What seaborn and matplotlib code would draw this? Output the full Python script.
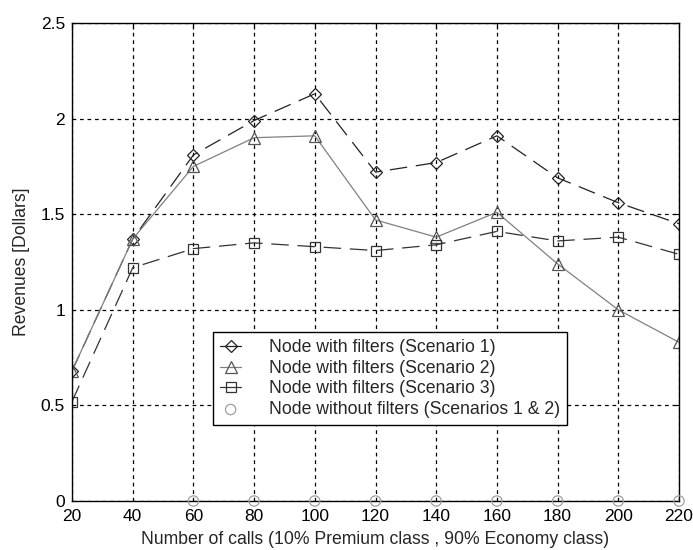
import numpy as np
import pandas as pd
import matplotlib
matplotlib.use("Agg")
import matplotlib.pyplot as plt
import seaborn as sns

calls = [20, 40, 60, 80, 100, 120, 140, 160, 180, 200, 220]
scenario1 = [0.68, 1.37, 1.81, 1.99, 2.13, 1.72, 1.77, 1.91, 1.69, 1.56, 1.45]
scenario2 = [0.68, 1.37, 1.75, 1.90, 1.91, 1.47, 1.38, 1.51, 1.24, 1.00, 0.83]
scenario3 = [0.52, 1.22, 1.32, 1.35, 1.33, 1.31, 1.34, 1.41, 1.36, 1.38, 1.29]
calls_nofilter = [60, 80, 100, 120, 140, 160, 180, 200, 220]
no_filters = [0, 0, 0, 0, 0, 0, 0, 0, 0]

labels = ["Node with filters (Scenario 1)",
          "Node with filters (Scenario 2)",
          "Node with filters (Scenario 3)",
          "Node without filters (Scenarios 1 & 2)"]
yticks = [0, 0.5, 1, 1.5, 2, 2.5]
ytick_labels = ["0", "0.5", "1", "1.5", "2", "2.5"]

sns.set_style("white")
plt.rcParams["font.family"] = ["Liberation Sans", "DejaVu Sans"]

fig = plt.figure(figsize=(6.93, 5.5), dpi=100)
ax = fig.add_axes([72 / 693, 1 - 501 / 550, (679 - 72) / 693, (501 - 23) / 550])

df = pd.DataFrame({"calls": calls, "s1": scenario1, "s2": scenario2, "s3": scenario3})
dfn = pd.DataFrame({"calls": calls_nofilter, "val": no_filters})

sns.lineplot(data=df, x="calls", y="s1", ax=ax, color="#222222", lw=0.9,
             marker="D", markersize=6.5, markerfacecolor="none",
             markeredgecolor="#222222", markeredgewidth=0.9,
             linestyle=(0, (14, 7)), label=labels[0])
sns.lineplot(data=df, x="calls", y="s2", ax=ax, color="#808080", lw=0.9,
             marker="^", markersize=8.5, markerfacecolor="none",
             markeredgecolor="#555555", markeredgewidth=0.9, label=labels[1])
sns.lineplot(data=df, x="calls", y="s3", ax=ax, color="#333333", lw=0.9,
             marker="s", markersize=7.5, markerfacecolor="none",
             markeredgecolor="#333333", markeredgewidth=0.9,
             linestyle=(0, (14, 7)), label=labels[2])
sns.scatterplot(data=dfn, x="calls", y="val", ax=ax, marker="o", s=55,
                facecolor="none", edgecolor="#a0a0a0", linewidth=0.9,
                label=labels[3], clip_on=False, zorder=5)

ax.set_xlim(20, 220)
ax.set_ylim(0, 2.5)
ax.set_xticks(calls)
ax.set_xticklabels([str(c) for c in calls])
ax.set_yticks(yticks)
ax.set_yticklabels(ytick_labels)
ax.grid(True, color="black", linestyle=(0, (3, 3)), linewidth=0.9)
ax.tick_params(direction="in", length=4, labelsize=12.5, colors="black",
               top=True, right=True)
ax.tick_params(axis="x", pad=6)
ax.tick_params(axis="y", pad=5)
for sp in ax.spines.values():
    sp.set_color("black")
    sp.set_linewidth(1.0)

ax.set_xlabel("Number of calls (10% Premium class , 90% Economy class)", fontsize=12.7, labelpad=5)
ax.set_ylabel("Revenues [Dollars]", fontsize=12.7, labelpad=8)

leg = ax.legend(loc="upper left", bbox_to_anchor=((213 - 72) / 607, (501 - 332) / 478),
                frameon=True, fancybox=False, edgecolor="black", framealpha=1,
                fontsize=12.7, handlelength=1.2, handletextpad=1.55, borderpad=0.4,
                labelspacing=0.21, borderaxespad=0)
leg.get_frame().set_linewidth(1.0)
for h in leg.get_lines():
    h.set_linestyle("-")

fig.savefig("out.png", dpi=100)
